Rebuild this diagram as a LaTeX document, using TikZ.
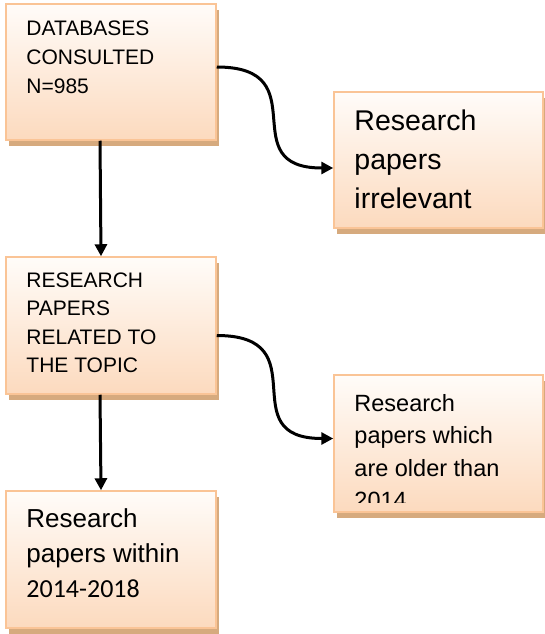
\documentclass[tikz,border=0pt]{standalone}
\usepackage{fontspec}
\setmainfont{Liberation Sans}
\newfontfamily\calibrifont{Carlito}
\usepackage{tikz}
\usetikzlibrary{positioning, arrows.meta, shadows, calc}

\definecolor{boxline}{RGB}{250,196,150}
\definecolor{boxtop}{RGB}{255,252,249}
\definecolor{boxbottom}{RGB}{252,218,190}
\definecolor{boxshadow}{RGB}{214,170,126}

\tikzset{
    stagebox/.style={rectangle, draw=boxline, line width=1.5pt,
        top color=boxtop, bottom color=boxbottom,
        drop shadow={shadow xshift=3pt, shadow yshift=-6pt, fill=boxshadow, opacity=1},
        inner sep=0pt},
    stagetext/.style={inner sep=0pt, align=left, text=black},
    flow/.style={draw, line width=3pt, -{Triangle[length=12pt, width=12pt]}}
}

\begin{document}
\begin{tikzpicture}[x=1pt, y=-1pt]
        \useasboundingbox (0,0) rectangle (544,634);

        \node[stagebox, minimum width=210pt, minimum height=136pt] (db) at (111,72) {};
        \node[stagebox, minimum width=209pt, minimum height=136pt] (irr) at (438.5,160) {};
        \node[stagebox, minimum width=210pt, minimum height=137pt] (rel) at (111,325.5) {};
        \node[stagebox, minimum width=209pt, minimum height=137pt] (old) at (438.5,443.5) {};
        \node[stagebox, minimum width=210pt, minimum height=137pt] (new) at (111,559.5) {};

        \node[stagetext, font=\fontsize{21}{29}\selectfont,
              below right=17pt and 21pt of db.north west] (db-txt)
              {DATABASES\\CONSULTED\\N=985};
        \node[stagetext, font=\fontsize{28.5}{39}\selectfont,
              below right=18pt and 21pt of irr.north west] (irr-txt)
              {Research\\papers\\irrelevant};
        \node[stagetext, font=\fontsize{21}{28.5}\selectfont,
              below right=16pt and 21pt of rel.north west] (rel-txt)
              {RESEARCH\\PAPERS\\RELATED TO\\THE TOPIC};
        \begin{scope}
            \clip (old.north west) rectangle ([yshift=10pt]old.south east);
            \node[stagetext, font=\fontsize{23.5}{32.5}\selectfont,
                  below right=20pt and 21pt of old.north west] (old-txt)
                  {Research\\papers which\\are older than\\2014};
        \end{scope}
        \node[stagetext, font=\fontsize{26}{35}\selectfont,
              below right=18pt and 21pt of new.north west] (new-txt)
              {Research\\papers within\\{\calibrifont 2014-2018}};

        \path
            ([xshift=-11pt]db.south) edge[flow] ([xshift=-10pt]rel.north)
            ([xshift=-11pt]rel.south) edge[flow] ([xshift=-10pt]new.north)
            ([yshift=5pt]db.east) edge[flow, out=0, in=180, looseness=1.7] ([yshift=-8pt]irr.west)
            ([yshift=-10pt]rel.east) edge[flow, out=0, in=180, looseness=1.7] ([yshift=5pt]old.west)
            ;
    \end{tikzpicture}
\end{document}
